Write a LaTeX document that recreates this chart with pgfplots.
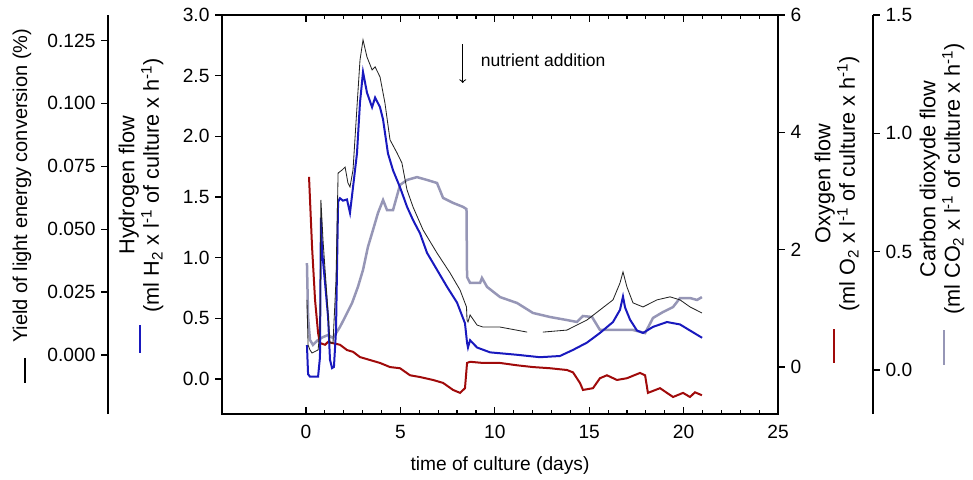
\documentclass[border=0pt]{standalone}
\usepackage{fontspec}
\setmainfont{Liberation Sans}
\usepackage{pgfplots}
\pgfplotsset{compat=1.18}

\definecolor{h2c}{RGB}{25,25,190}
\definecolor{o2c}{RGB}{160,10,10}
\definecolor{co2c}{RGB}{150,150,182}
\definecolor{yc}{RGB}{35,35,35}
\definecolor{ybar}{RGB}{120,120,120}

\pgfplotsset{
  base/.style={
    scale only axis, height=239.4pt, anchor=south west,
    /pgf/number format/assume math mode=true,
    tick label style={font=\fontsize{11.5}{13.8}\selectfont},
    axis line style={line width=0.8pt},
    tick style={line width=0.7pt, color=black},
    major tick length=4pt, minor tick length=2.5pt,
    clip=false,
  },
  yonly/.style={base, axis x line=none, tick align=outside},
}
\tikzset{
  lab/.style={rotate=90, anchor=west, inner sep=0pt, font=\fontsize{13}{13.8}\selectfont},
  legbar/.style={line width=1.2pt},
}

\begin{document}
\begin{tikzpicture}[font=\fontsize{11.5}{13.8}\selectfont]
\path[use as bounding box] (0,0) rectangle (583.8pt,287.4pt);

% frame and time axis
\begin{axis}[base, at={(133.2pt,39pt)}, width=333.6pt,
  xmin=-4.4492, xmax=25, ymin=-0.288, ymax=3.0,
  tick align=inside, xtick={0,5,...,25}, minor x tick num=4,
  xtick pos=both, ytick=\empty,
  xticklabel style={yshift=-3pt},
  xlabel={time of culture (days)}, xlabel style={yshift=-4pt}]
\draw[->, line width=0.6pt] (axis cs:8.3,2.76) -- (axis cs:8.3,2.44);
\node[anchor=west, font=\fontsize{10.5}{12}\selectfont] at (axis cs:8.95,2.63) {nutrient addition};
\end{axis}

% carbon dioxide
\begin{axis}[yonly, at={(133.2pt,39pt)}, width=390.6pt,
  xmin=-4.4492, xmax=30.0318, ymin=-0.186, ymax=1.5,
  axis y line*=right, ytick={0,0.5,1,1.5},
  yticklabel style={/pgf/number format/.cd, fixed, fixed zerofill, precision=1}]
\addplot[co2c, line width=1.5pt] table {
0.05 0.452
0.11 0.224
0.21 0.127
0.37 0.106
0.64 0.127
0.90 0.139
1.17 0.148
1.43 0.135
1.80 0.182
2.07 0.224
2.44 0.283
2.75 0.351
3.02 0.423
3.28 0.520
3.55 0.592
3.81 0.663
4.08 0.718
4.29 0.676
4.61 0.676
4.98 0.782
5.35 0.803
5.88 0.815
6.41 0.803
6.94 0.790
7.26 0.727
7.79 0.706
8.32 0.689
8.50 0.680
8.53 0.393
8.69 0.368
9.22 0.368
9.32 0.389
9.59 0.351
10.28 0.308
11.18 0.283
12.02 0.241
12.92 0.224
13.82 0.211
14.35 0.203
14.67 0.228
15.15 0.224
15.31 0.203
15.57 0.169
16.47 0.169
17.32 0.169
17.96 0.156
18.38 0.220
18.91 0.245
19.44 0.266
19.81 0.304
20.34 0.304
20.71 0.296
20.97 0.308
};
\node[lab] at (axis description cs:1.1075,0.2481)
  {\begin{tabular}{@{}c@{}}Carbon dioxyde flow\\(ml CO\textsubscript{2} x l\textsuperscript{-1} of culture x h\textsuperscript{-1})\end{tabular}};
\draw[legbar, co2c] (axis description cs:1.1091,0.2105) -- (axis description cs:1.1091,0.1228);
\end{axis}

% oxygen
\begin{axis}[yonly, at={(133.2pt,39pt)}, width=333.6pt,
  xmin=-4.4492, xmax=25, ymin=-0.80, ymax=6,
  axis y line*=right, ytick={0,2,4,6}]
\addplot[o2c, line width=1.2pt] table {
0.16 3.24
0.32 2.05
0.48 1.14
0.64 0.58
0.74 0.41
1.01 0.38
1.17 0.43
1.38 0.41
1.80 0.38
2.17 0.29
2.49 0.26
2.86 0.17
3.39 0.12
3.92 0.07
4.45 0.00
4.98 -0.02
5.51 -0.14
6.04 -0.17
6.73 -0.22
7.26 -0.27
7.79 -0.39
8.16 -0.44
8.42 -0.36
8.53 0.07
8.69 0.09
9.38 0.07
10.28 0.07
11.18 0.03
12.02 0.00
12.92 -0.02
13.82 -0.05
14.14 -0.09
14.51 -0.27
14.67 -0.39
15.20 -0.36
15.57 -0.19
15.94 -0.14
16.47 -0.22
17.00 -0.19
17.69 -0.10
17.96 -0.14
18.11 -0.44
18.75 -0.36
19.12 -0.44
19.44 -0.51
19.97 -0.44
20.34 -0.51
20.60 -0.43
20.97 -0.48
};
\node[lab] at (axis description cs:1.1079,0.2556)
  {\begin{tabular}{@{}c@{}}Oxygen flow\\(ml O\textsubscript{2} x l\textsuperscript{-1} of culture x h\textsuperscript{-1})\end{tabular}};
\draw[legbar, o2c] (axis description cs:1.1007,0.2130) -- (axis description cs:1.1007,0.1278);
\end{axis}

% hydrogen
\begin{axis}[yonly, at={(133.2pt,39pt)}, width=333.6pt,
  xmin=-4.4492, xmax=25, ymin=-0.288, ymax=3.0,
  axis y line*=left, ytick={0,0.5,1,1.5,2,2.5,3},
  yticklabel style={/pgf/number format/.cd, fixed, fixed zerofill, precision=1}]
\addplot[h2c, line width=1.2pt] table {
0.05 0.28
0.11 0.04
0.21 0.02
0.64 0.02
0.74 0.18
0.79 1.33
0.85 1.06
1.01 0.79
1.17 0.51
1.27 0.16
1.38 0.09
1.48 0.10
1.59 0.40
1.70 1.46
1.80 1.49
1.96 1.47
2.17 1.48
2.33 1.37
2.49 1.58
2.70 1.86
2.86 2.28
3.02 2.53
3.23 2.36
3.50 2.24
3.66 2.32
3.92 2.24
4.08 2.14
4.34 1.86
4.61 1.72
4.98 1.58
5.35 1.42
5.67 1.31
6.04 1.20
6.41 1.04
6.94 0.90
7.47 0.76
8.00 0.63
8.42 0.46
8.53 0.30
8.58 0.26
8.69 0.32
9.06 0.26
9.75 0.22
11.18 0.20
12.39 0.18
13.45 0.19
14.14 0.24
14.88 0.30
15.57 0.38
16.26 0.47
16.63 0.57
16.79 0.68
16.90 0.59
17.16 0.49
17.53 0.40
17.85 0.38
18.38 0.43
19.12 0.47
19.81 0.45
20.34 0.40
20.98 0.34
};
\node[lab] at (axis description cs:-0.1439,0.2531)
  {\begin{tabular}{@{}c@{}}Hydrogen flow\\(ml H\textsubscript{2} x l\textsuperscript{-1} of culture x h\textsuperscript{-1})\end{tabular}};
\draw[legbar, h2c] (axis description cs:-0.1475,0.2231) -- (axis description cs:-0.1475,0.1529);
\end{axis}

% yield
\begin{axis}[yonly, at={(64.8pt,39pt)}, width=402pt,
  xmin=-10.4873, xmax=25, ymin=-0.02345, ymax=0.1351,
  axis y line*=left, ytick={0,0.025,0.05,0.075,0.1,0.125},
  yticklabel style={/pgf/number format/.cd, fixed, fixed zerofill, precision=3},
  unbounded coords=jump]
\addplot[yc, line width=0.5pt] table {
0.05 0.0219
0.11 0.0040
0.21 0.0020
0.32 0.0008
0.64 0.0020
0.74 0.0099
0.79 0.0616
0.90 0.0457
1.11 0.0231
1.27 0.0048
1.43 0.0048
1.59 0.0298
1.70 0.0723
1.91 0.0735
2.07 0.0747
2.22 0.0684
2.33 0.0668
2.49 0.0735
2.70 0.0986
2.86 0.1172
3.02 0.1252
3.23 0.1184
3.50 0.1133
3.66 0.1145
3.92 0.1105
4.18 0.1002
4.45 0.0855
4.82 0.0803
5.08 0.0763
5.35 0.0656
5.67 0.0588
6.20 0.0497
6.94 0.0405
7.63 0.0326
8.16 0.0258
8.50 0.0191
8.53 0.0139
8.58 0.0131
8.69 0.0159
9.06 0.0119
9.38 0.0111
10.28 0.0111
11.71 0.0091
11.72 nan
12.54 nan
12.55 0.0091
13.82 0.0099
14.88 0.0139
15.57 0.0179
16.26 0.0219
16.63 0.0286
16.79 0.0330
17.00 0.0270
17.32 0.0207
17.85 0.0191
18.59 0.0219
19.28 0.0231
19.81 0.0219
20.34 0.0191
20.97 0.0167
};
\node[lab, font=\fontsize{12}{13.8}\selectfont] at (axis description cs:-0.1284,0.178)
  {Yield of light energy conversion (\%)};
\draw[line width=0.8pt, ybar] (axis description cs:-0.1239,0.1404) -- (axis description cs:-0.1239,0.0777);
\end{axis}
\end{tikzpicture}
\end{document}
